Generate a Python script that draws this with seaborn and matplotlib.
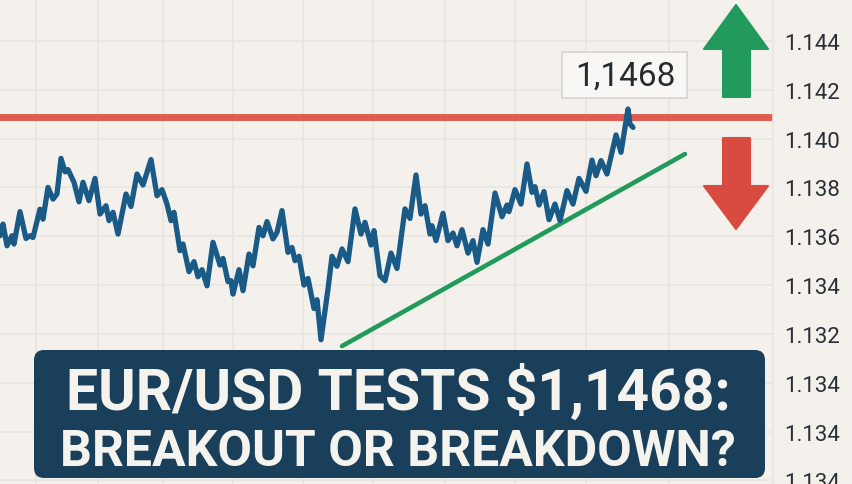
import matplotlib
matplotlib.use('Agg')
import matplotlib.pyplot as plt
import seaborn as sns
from matplotlib.patches import FancyBboxPatch, Polygon

# Price series
bars = [0, 3, 7, 12, 14, 20, 26, 30, 33, 40, 43, 48, 53, 57, 61, 65, 68, 74, 79, 83, 89, 95,
        100, 106, 109, 113, 118, 126, 131, 137, 143, 151, 157, 162, 167, 171, 174, 180, 183,
        189, 194, 198, 202, 207, 213, 220, 223, 228, 231, 233, 239, 243, 249, 253, 259, 263,
        267, 273, 277, 282, 288, 292, 295, 299, 304, 308, 314, 317, 321, 328, 332, 337, 342,
        348, 355, 361, 365, 371, 374, 380, 385, 391, 397, 405, 410, 416, 421, 425, 430, 432,
        436, 443, 448, 453, 457, 462, 468, 473, 477, 483, 488, 495, 502, 507, 509, 515, 521,
        527, 532, 535, 539, 544, 549, 555, 560, 567, 573, 579, 586, 592, 596, 601, 607, 616,
        621, 628, 630, 633]
prices = [1.13602, 1.13650, 1.13561, 1.13602, 1.13568, 1.13701, 1.13591, 1.13602, 1.13595,
          1.13711, 1.13670, 1.13800, 1.13752, 1.13773, 1.13919, 1.13864, 1.13873, 1.13821,
          1.13741, 1.13821, 1.13746, 1.13837, 1.13691, 1.13725, 1.13664, 1.13698, 1.13609,
          1.13773, 1.13722, 1.13855, 1.13810, 1.13914, 1.13766, 1.13791, 1.13732, 1.13664,
          1.13698, 1.13541, 1.13568, 1.13455, 1.13496, 1.13434, 1.13463, 1.13397, 1.13575,
          1.13482, 1.13509, 1.13414, 1.13418, 1.13363, 1.13463, 1.13377, 1.13527, 1.13479,
          1.13636, 1.13602, 1.13660, 1.13589, 1.13616, 1.13705, 1.13534, 1.13554, 1.13500,
          1.13518, 1.13400, 1.13427, 1.13304, 1.13340, 1.13176, 1.13384, 1.13518, 1.13477,
          1.13548, 1.13496, 1.13712, 1.13609, 1.13657, 1.13564, 1.13623, 1.13438, 1.13418,
          1.13531, 1.13468, 1.13712, 1.13673, 1.13851, 1.13691, 1.13725, 1.13609, 1.13643,
          1.13582, 1.13694, 1.13582, 1.13613, 1.13561, 1.13627, 1.13531, 1.13582, 1.13493,
          1.13627, 1.13568, 1.13777, 1.13680, 1.13728, 1.13701, 1.13791, 1.13732, 1.13896,
          1.13780, 1.13803, 1.13728, 1.13783, 1.13668, 1.13732, 1.13664, 1.13787, 1.13732,
          1.13837, 1.13784, 1.13912, 1.13848, 1.13910, 1.13855, 1.14015, 1.13944, 1.14121,
          1.14060, 1.14046]

resistance = 1.14089
trend_bars = [342, 685]
trend_prices = [1.13150, 1.13937]

# The picture repeats 1.134 at the bottom of the axis
tick_values = [1.144, 1.142, 1.140, 1.138, 1.136, 1.134, 1.132, 1.130, 1.128, 1.126]
tick_labels = ['1.144', '1.142', '1.140', '1.138', '1.136', '1.134', '1.132', '1.134', '1.134', '1.134']
grid_bars = [36, 98, 163, 233, 303, 373, 445, 515, 586, 669]

BG = '#f4f1ec'
GRID = '#e8e6e1'
BLUE = '#1a5a87'
RED = '#e25b50'
GREEN = '#229a5c'
NAVY = '#1a3f5a'

sns.set_theme(style='whitegrid', rc={'axes.facecolor': BG, 'figure.facecolor': BG})
plt.rcParams['font.family'] = ['Roboto', 'DejaVu Sans']

fig = plt.figure(figsize=(8.52, 4.85), dpi=100)
ax = fig.add_axes([0, 0, 773 / 852, 1])

ax.axhline(resistance, color=RED, lw=5, zorder=2)
sns.lineplot(x=trend_bars, y=trend_prices, color=GREEN, lw=3.3, ax=ax, zorder=3,
             solid_capstyle='round')
sns.lineplot(x=bars, y=prices, color=BLUE, lw=3.8, ax=ax, zorder=4, sort=False,
             solid_capstyle='round', solid_joinstyle='round')

ax.set_xlim(0, 773)
ax.set_ylim(1.12585, 1.14572)
ax.set_xticks(grid_bars)
ax.set_yticks(tick_values)
ax.set_yticklabels(tick_labels)
ax.yaxis.tick_right()
ax.tick_params(axis='y', length=0, pad=8, labelsize=16, labelcolor='#2a2f36')
ax.tick_params(axis='x', length=0, labelbottom=False)
ax.grid(True, color=GRID, lw=1.3)
ax.set_axisbelow(True)
for name, spine in ax.spines.items():
    spine.set_visible(name == 'right')
    spine.set_color(GRID)
    spine.set_linewidth(1.2)

# Overlay in pixel coordinates for the banner, arrows and price box
over = fig.add_axes([0, 0, 1, 1], zorder=5)
over.set_xlim(0, 852)
over.set_ylim(485, 0)
over.axis('off')

# Top label is almost entirely off the picture
over.text(785, -6, '1.146', fontsize=16, color='#2a2f36', ha='left', va='center', clip_on=False)

over.add_patch(Polygon([(736, 6), (768, 50), (750, 50), (750, 98), (723, 98), (723, 50), (704, 50)],
                       closed=True, fc=GREEN, ec=GREEN, lw=1.5, joinstyle='round'))
over.add_patch(Polygon([(736, 230), (768, 187), (750, 187), (750, 139), (723, 139), (723, 187), (704, 187)],
                       closed=True, fc='#d94a40', ec='#d94a40', lw=1.5, joinstyle='round'))

over.add_patch(FancyBboxPatch((562, 53), 125, 46, boxstyle='square,pad=0', fc='#f8f7f4',
                              ec='#d6d5d0', lw=1.2))
over.text(625, 77, '1,1468', fontsize=24, color='#262b30', ha='center', va='center')

over.add_patch(FancyBboxPatch((44, 361), 711, 108, boxstyle='round,pad=10,rounding_size=10',
                              fc=NAVY, ec='none', mutation_aspect=1))
banner_font = ['Liberation Sans Narrow', 'Roboto', 'DejaVu Sans']
over.text(398, 387, 'EUR/USD TESTS $1,1468:', fontsize=41, fontweight='bold', color='#f5f3ee',
          ha='center', va='center_baseline', family=banner_font)
over.text(398, 448, 'BREAKOUT OR BREAKDOWN?', fontsize=36, fontweight='bold', color='#f5f3ee',
          ha='center', va='center_baseline', family=banner_font)

fig.savefig('out.png', dpi=100)
